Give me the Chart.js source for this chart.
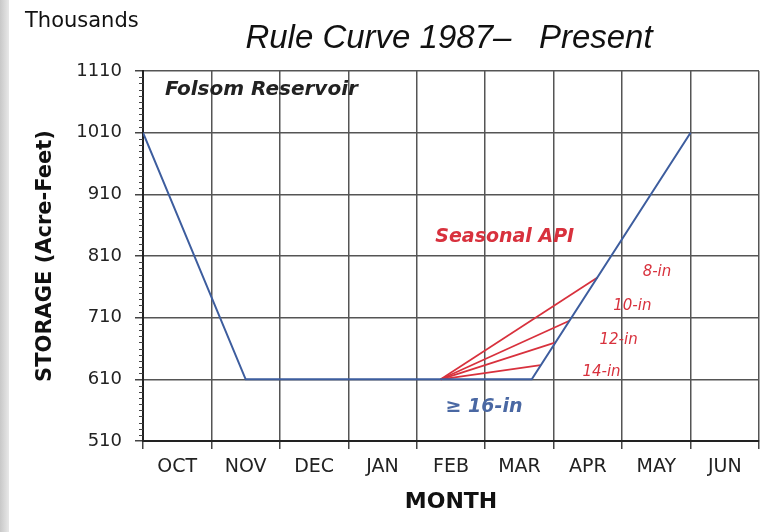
<!DOCTYPE html>
<html><head><meta charset="utf-8">
<script src="https://cdn.jsdelivr.net/npm/chart.js@4.4.1/dist/chart.umd.min.js"></script>
<style>
html,body{margin:0;padding:0;background:#fff;}
#wrap{position:relative;width:781px;height:532px;}
#edge{position:absolute;left:0;top:0;width:9px;height:532px;background:linear-gradient(to right,#c8c8c8,#e8e8e8);}
</style></head>
<body><div id="wrap"><div id="edge"></div><canvas id="c" width="781" height="532"></canvas></div>
<script>
// ---- data ----
const months = ['OCT','NOV','DEC','JAN','FEB','MAR','APR','MAY','JUN'];
const yTickValues = [510, 610, 710, 810, 910, 1010, 1110];
const ruleCurveX = [0, 1.5, 5.68, 8];          // month units from start of OCT
const ruleCurveY = [1010, 610, 610, 1010];      // thousand acre-feet
const apiLabels = ['8-in', '10-in', '12-in', '14-in'];
const apiStartX = 4.35;
const apiStartY = 610;
const apiEndX = [6.64, 6.23, 6.03, 5.81];
const apiEndY = [775, 705, 670, 633];

const BLUE = '#3d5d9e';
const RED = '#d8313d';
const FONT = '"DejaVu Sans"';

const datasets = [{
  label: 'Rule curve',
  data: ruleCurveX.map((x, i) => ({x: x, y: ruleCurveY[i]})),
  borderColor: BLUE, borderWidth: 2, pointRadius: 0, tension: 0, xAxisID: 'xv', yAxisID: 'y'
}];
apiLabels.forEach((lab, i) => {
  datasets.push({
    label: lab,
    data: [{x: apiStartX, y: apiStartY}, {x: apiEndX[i], y: apiEndY[i]}],
    borderColor: RED, borderWidth: 1.7, pointRadius: 0, tension: 0, xAxisID: 'xv', yAxisID: 'y'
  });
});

// annotation texts anchored in data units
const notes = [
  {t: 'Folsom Reservoir', x: 0.32, y: 1079, font: 'italic bold 20px ' + FONT, c: '#222'},
  {t: 'Seasonal API', x: 4.27, y: 841, font: 'italic bold 19px ' + FONT, c: RED},
  {t: apiLabels[0], x: 7.30, y: 784, font: 'italic 15px ' + FONT, c: RED},
  {t: apiLabels[1], x: 6.87, y: 728, font: 'italic 15px ' + FONT, c: RED},
  {t: apiLabels[2], x: 6.67, y: 674, font: 'italic 15px ' + FONT, c: RED},
  {t: apiLabels[3], x: 6.42, y: 622, font: 'italic 15px ' + FONT, c: RED},
  {t: '\u2265 16-in', x: 4.42, y: 565, font: 'italic bold 19px ' + FONT, c: '#4a68a3'}
];

const decor = {
  id: 'decor',
  afterDraw(chart) {
    const ctx = chart.ctx, xs = chart.scales.xv, ys = chart.scales.y;
    ctx.save();
    // minor ticks
    ctx.strokeStyle = '#444'; ctx.lineWidth = 1;
    for (let v = ys.min; v <= ys.max; v += 10) {
      if ((v - ys.min) % 100 === 0) continue;
      const py = Math.round(ys.getPixelForValue(v)) + 0.5;
      ctx.beginPath(); ctx.moveTo(ys.right - 4, py); ctx.lineTo(ys.right, py); ctx.stroke();
    }
    ctx.textBaseline = 'middle'; ctx.textAlign = 'left';
    notes.forEach(n => {
      ctx.font = n.font; ctx.fillStyle = n.c;
      ctx.fillText(n.t, xs.getPixelForValue(n.x), ys.getPixelForValue(n.y));
    });
    // title texts
    ctx.fillStyle = '#111';
    ctx.font = '21px ' + FONT;
    ctx.fillText('Thousands', 25, 22);
    ctx.font = 'italic 33px "Liberation Sans"';
    ctx.textAlign = 'center';
    ctx.fillText('Rule Curve 1987\u2013   Present', 449, 39);
    ctx.restore();
  }
};

new Chart(document.getElementById('c'), {
  type: 'line',
  data: {labels: months, datasets: datasets},
  options: {
    responsive: false, animation: false,
    layout: {padding: {top: 71, right: 22, left: 0, bottom: 0}},
    plugins: {legend: {display: false}, tooltip: {enabled: false}, title: {display: false}},
    scales: {
      x: {
        type: 'category', offset: true,
        grid: {offset: true, color: '#555', lineWidth: 1.5, tickLength: 8, tickColor: '#444'},
        border: {color: '#222', width: 2},
        ticks: {color: '#222', font: {family: 'DejaVu Sans', size: 19}, padding: 7, maxRotation: 0},
        title: {display: true, text: 'MONTH', color: '#111', font: {family: 'DejaVu Sans', size: 22, weight: 'bold'}, padding: {top: 0, bottom: 17}},
        afterFit(s) { s.height = 91; }
      },
      xv: {type: 'linear', min: 0, max: 9, display: false},
      y: {
        min: 510, max: 1110,
        afterBuildTicks(s) { s.ticks = yTickValues.map(v => ({value: v})); },
        grid: {color: '#555', lineWidth: 1.5, tickLength: 8, tickColor: '#444'},
        border: {color: '#222', width: 2},
        ticks: {color: '#222', font: {family: 'DejaVu Sans', size: 18}, padding: 13, callback: v => String(v)},
        title: {display: true, text: 'STORAGE (Acre-Feet)', color: '#111', font: {family: 'DejaVu Sans', size: 21, weight: 'bold'}, padding: {top: 33, bottom: 0}},
        afterFit(s) { s.width = 143; }
      }
    }
  },
  plugins: [decor]
});
</script></body></html>
